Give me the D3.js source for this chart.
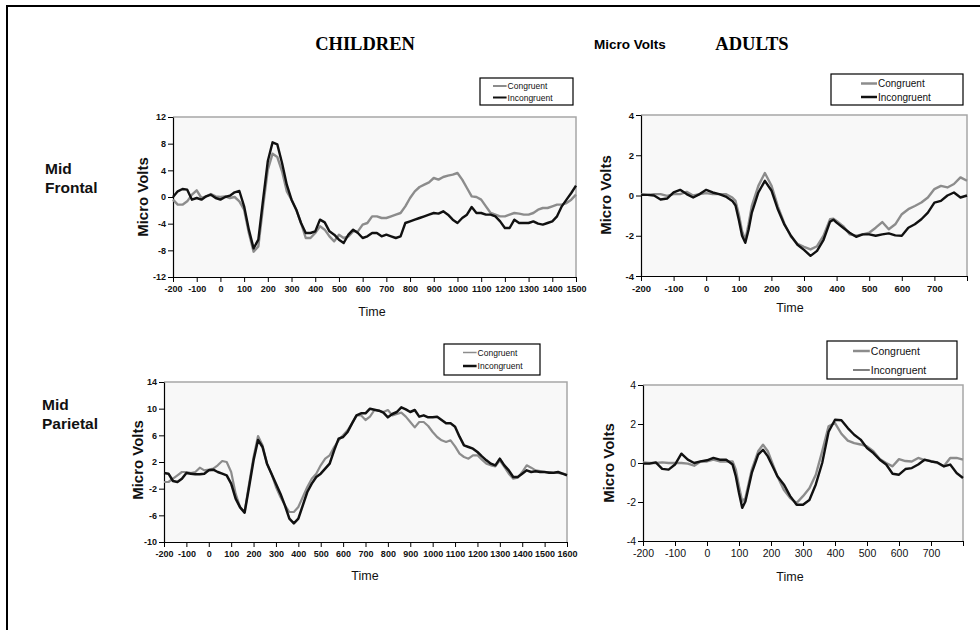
<!DOCTYPE html>
<html>
<head>
<meta charset="utf-8">
<script src="https://cdn.jsdelivr.net/npm/d3@7"></script>
<style>
  html, body { margin: 0; padding: 0; background: #fff; }
  svg { display: block; }
</style>
</head>
<body>
<svg id="chart" width="980" height="630"></svg>
<script>
// ---------------- DATA ----------------
// Children, Mid Frontal
const cfTime = [-200,-180,-160,-140,-120,-100,-80,-60,-40,-20,
  0,20,40,60,80,100,120,140,160,180,
  200,220,240,260,280,300,320,340,360,380,
  400,420,440,460,480,500,520,540,560,580,
  600,620,640,660,680,700,720,740,760,780,
  800,820,840,860,880,900,920,940,960,980,
  1000,1020,1040,1060,1080,1100,1120,1140,1160,1180,
  1200,1220,1240,1260,1280,1300,1320,1340,1360,1380,
  1400,1420,1440,1460,1480,1500];
const cfCongruent = [-0.4,-1.15,-1.15,-0.65,0.35,1.0,-0.15,0.1,0.45,0.1,
  0,0.1,-0.15,0,-0.65,-1.9,-5.4,-8.2,-7.4,-1.4,
  4.1,6.5,6.0,3.85,0.85,-0.4,-1.9,-3.9,-6.15,-6.15,
  -5.4,-4.4,-4.9,-5.9,-6.65,-5.65,-6.15,-5.9,-5.15,-5.15,
  -4.15,-3.9,-2.9,-2.9,-3.15,-3.15,-2.9,-2.65,-2.4,-1.4,
  -0.15,0.85,1.5,1.85,2.2,2.85,2.6,3.0,3.2,3.35,
  3.6,2.6,1.35,0.1,0,-0.4,-1.4,-2.4,-2.65,-2.9,
  -2.9,-2.65,-2.4,-2.5,-2.65,-2.65,-2.4,-1.9,-1.65,-1.65,
  -1.4,-1.15,-1.15,-0.9,-0.4,0.35];
const cfIncongruent = [0,0.85,1.2,1.1,-0.4,-0.15,-0.4,0.1,0.35,-0.15,
  -0.4,0,0.2,0.7,0.9,-1.4,-4.9,-7.7,-6.4,-0.4,
  5.4,8.2,7.9,5.1,1.85,-0.4,-1.9,-3.9,-5.4,-5.4,
  -5.15,-3.4,-3.8,-5.15,-5.65,-6.4,-6.9,-5.65,-4.9,-5.4,
  -6.15,-5.9,-5.4,-5.4,-5.9,-5.65,-5.9,-6.15,-5.9,-3.9,
  -3.65,-3.4,-3.15,-2.9,-2.65,-2.4,-2.5,-2.15,-2.65,-3.4,
  -3.9,-3.15,-2.65,-1.5,-2.4,-2.4,-2.65,-2.65,-2.9,-3.65,
  -4.65,-4.65,-3.4,-3.9,-3.9,-3.9,-3.65,-4.0,-4.15,-3.9,
  -3.65,-2.9,-1.4,-0.4,0.6,1.7];

// Children, Mid Parietal
const cpTime = [-200,-180,-160,-140,-120,-100,-80,-60,-40,-20,
  0,20,40,60,80,100,120,140,160,180,
  200,220,240,260,280,300,320,340,360,380,
  400,420,440,460,480,500,520,540,560,580,
  600,620,640,660,680,700,720,740,760,780,
  800,820,840,860,880,900,920,940,960,980,
  1000,1020,1040,1060,1080,1100,1120,1140,1160,1180,
  1200,1220,1240,1260,1280,1300,1320,1340,1360,1380,
  1400,1420,1440,1460,1480,1500,1520,1540,1560,1580,
  1600];
const cpCongruent = [-1.0,-1.0,-0.5,0,0.5,0.5,0.35,0.5,1.15,0.75,
  0.85,1.0,1.5,2.15,2.0,0.5,-2.75,-4.8,-5.5,-1.25,
  2.75,5.9,4.5,1.75,0.25,-1.75,-3.25,-4.5,-5.5,-5.5,
  -4.75,-3.25,-1.75,-0.5,0.25,1.5,2.5,3.0,4.25,5.25,
  6.0,6.75,7.8,9.0,9.0,8.3,8.8,9.8,9.7,9.5,
  9.8,9.0,9.2,9.4,8.8,8.0,7.2,8.0,8.0,7.4,
  6.5,5.75,5.25,5.0,5.25,4.35,3.25,2.75,2.5,3.0,
  3.0,2.35,1.75,1.5,1.35,2.25,1.25,0.25,-0.5,-0.35,
  0.5,1.5,1.15,0.75,0.65,0.5,0.5,0.35,0.35,0.25,
  0.15];
const cpIncongruent = [0.35,0.25,-0.85,-1.0,-0.5,0.35,0.25,0.15,0.15,0.25,
  0.75,0.85,0.5,0.25,0,-1.25,-3.5,-4.8,-5.6,-1.75,
  2.25,5.3,4.25,1.75,0.25,-1.25,-2.75,-4.5,-6.5,-7.2,
  -6.5,-4.5,-2.5,-1.25,-0.25,0.25,1.0,1.75,3.75,5.5,
  5.75,6.5,7.8,9.0,9.3,9.3,10.0,9.85,9.7,9.4,
  8.7,9.2,9.5,10.2,9.9,9.5,9.8,8.8,9.0,8.7,
  8.7,8.8,8.3,7.8,7.8,7.3,5.8,4.5,4.25,4.0,
  3.5,2.85,2.25,1.75,1.5,2.5,1.5,0.75,-0.25,-0.25,
  0.25,0.75,0.5,0.6,0.5,0.5,0.4,0.4,0.5,0.25,
  0];

// Adults, Mid Frontal
const afTime = [-200,-180,-160,-140,-120,-100,-80,-60,-40,-20,0,20,40,60,80,
  90,100,110,120,130,140,
  160,180,200,220,240,260,280,300,320,340,360,380,390,
  400,420,440,460,480,500,520,540,560,580,600,620,640,660,680,700,720,740,760,780,800];
const afCongruent = [0.07,0.03,0.07,0.07,-0.02,0.07,0.07,0.18,0,0.07,0.12,0.07,0.07,0.07,-0.1,
  -0.27,-0.93,-1.77,-2.2,-1.43,-0.52,
  0.48,1.12,0.5,-0.55,-1.4,-2.05,-2.4,-2.55,-2.68,-2.52,-2.0,-1.18,-1.15,
  -1.27,-1.52,-1.93,-2.0,-1.93,-1.85,-1.6,-1.32,-1.68,-1.43,-0.93,-0.68,-0.52,-0.35,-0.1,0.32,0.48,0.4,0.57,0.9,0.73];
const afIncongruent = [0.03,0.03,0,-0.2,-0.15,0.15,0.28,0.07,-0.1,0.07,0.28,0.15,0.07,-0.05,-0.27,
  -0.5,-1.2,-2.0,-2.35,-1.7,-0.85,
  0.15,0.73,0.25,-0.7,-1.45,-2.0,-2.45,-2.7,-3.0,-2.75,-2.2,-1.3,-1.2,
  -1.35,-1.6,-1.85,-2.05,-1.93,-1.93,-2.0,-1.93,-1.88,-1.98,-2.0,-1.6,-1.43,-1.18,-0.85,-0.35,-0.27,0,0.15,-0.1,0];

// Adults, Mid Parietal
const apTime = [-200,-180,-160,-140,-120,-100,-80,-60,-40,-20,0,20,40,60,80,
  90,100,110,120,140,160,175,190,200,
  220,240,260,280,300,320,340,360,380,400,420,440,460,480,500,520,540,560,580,600,
  620,640,660,680,700,720,740,760,780,800];
const apCongruent = [0.03,0,0,0.03,0,0,0,-0.03,-0.14,0.08,0.08,0.17,0.08,0.08,0.08,
  -0.34,-1.2,-1.97,-1.8,-0.34,0.6,0.94,0.6,0.17,
  -0.68,-1.37,-1.8,-2.05,-1.7,-1.3,-0.6,0.6,1.88,2.05,1.5,1.15,1.02,0.95,0.85,0.6,0.2,0,-0.17,0.2,
  0.1,0.08,0.26,0.15,0.1,0,-0.17,0.26,0.26,0.17];
const apIncongruent = [-0.03,-0.03,0.03,-0.3,-0.34,-0.08,0.48,0.17,0,0.08,0.14,0.26,0.17,0.17,-0.08,
  -0.68,-1.54,-2.3,-1.97,-0.51,0.43,0.68,0.34,0,
  -0.68,-1.1,-1.7,-2.14,-2.14,-1.9,-1.1,0.0,1.6,2.22,2.19,1.79,1.45,1.2,0.77,0.51,0.17,-0.08,-0.55,-0.6,
  -0.31,-0.26,-0.08,0.17,0.08,0.03,-0.17,-0.08,-0.51,-0.77];

// Tick values
const childFrontalYTicks = [-12,-8,-4,0,4,8,12];
const childFrontalXTicks = [-200,-100,0,100,200,300,400,500,600,700,800,900,1000,1100,1200,1300,1400,1500];
const childParietalYTicks = [-10,-6,-2,2,6,10,14];
const childParietalXTicks = [-200,-100,0,100,200,300,400,500,600,700,800,900,1000,1100,1200,1300,1400,1500,1600];
const adultYTicks = [-4,-2,0,2,4];
const adultXTicks = [-200,-100,0,100,200,300,400,500,600,700,800];
const adultXLabelled = [-200,-100,0,100,200,300,400,500,600,700];

const seriesNames = ["Congruent", "Incongruent"];
const titleChildren = "CHILDREN";
const titleAdults = "ADULTS";
const titleUnits = "Micro Volts";
const rowLabels = [["Mid", "Frontal"], ["Mid", "Parietal"]];

// ---------------- LAYOUT ----------------
const GREY = "#8c8c8c", BLACK = "#111";
const SANS = "'Liberation Sans', Arial, Helvetica, sans-serif";
const SERIF = "'Liberation Serif', 'Times New Roman', serif";

const panels = [
  { time: cfTime, cong: cfCongruent, inc: cfIncongruent,
    xd: [-200,1500], yd: [-12,12], xt: childFrontalXTicks, xl: childFrontalXTicks, yt: childFrontalYTicks,
    x0: 173, x1: 576, y0: 117, y1: 277, tickFont: 9, tickWeight: "bold",
    ylab: [142, 197], tlab: [372, 316],
    legend: { x: 480, y: 78, w: 93, h: 27, font: 8.5, lx: 13, rows: [86, 97.5],
      styles: [{c: GREY, w: 2}, {c: BLACK, w: 2}] },
    congW: 2.4, incW: 2.4 },
  { time: afTime, cong: afCongruent, inc: afIncongruent,
    xd: [-200,800], yd: [-4,4], xt: adultXTicks, xl: adultXLabelled, yt: adultYTicks,
    x0: 641, x1: 967, y0: 115, y1: 276, tickFont: 9.5, tickWeight: "bold",
    ylab: [605, 195], tlab: [790, 312],
    legend: { x: 831, y: 74, w: 132, h: 31, font: 10, lx: 30, rows: [83.5, 97],
      styles: [{c: GREY, w: 2.5}, {c: BLACK, w: 2.5}] },
    congW: 2.4, incW: 2.4 },
  { time: cpTime, cong: cpCongruent, inc: cpIncongruent,
    xd: [-200,1600], yd: [-10,14], xt: childParietalXTicks, xl: childParietalXTicks, yt: childParietalYTicks,
    x0: 164, x1: 567, y0: 382, y1: 542, tickFont: 9, tickWeight: "bold",
    ylab: [137, 460], tlab: [365, 580],
    legend: { x: 444, y: 344, w: 96, h: 31, font: 8.5, lx: 19, rows: [352.5, 366],
      styles: [{c: GREY, w: 1.5}, {c: BLACK, w: 2.5}] },
    congW: 2.2, incW: 2.5 },
  { time: apTime, cong: apCongruent, inc: apIncongruent,
    xd: [-200,800], yd: [-4,4], xt: adultXTicks, xl: adultXLabelled, yt: adultYTicks,
    x0: 643, x1: 963, y0: 385, y1: 541, tickFont: 10.5, tickWeight: "normal",
    ylab: [608, 463], tlab: [790, 581],
    legend: { x: 827, y: 341, w: 130, h: 38, font: 10.5, lx: 26, rows: [351, 370],
      styles: [{c: GREY, w: 2.5}, {c: "#555", w: 1.5}] },
    congW: 2.4, incW: 2.4 }
];

// ---------------- DRAW ----------------
const svg = d3.select("#chart");

// outer frame (top and left edges)
svg.append("path")
  .attr("d", "M7,630 L7,6 L980,6")
  .attr("fill", "none").attr("stroke", "#000").attr("stroke-width", 2);

// headings
svg.append("text").attr("x", 365).attr("y", 50).attr("text-anchor", "middle")
  .attr("font-family", SERIF).attr("font-weight", "bold").attr("font-size", 18.5)
  .text(titleChildren);
svg.append("text").attr("x", 752).attr("y", 50).attr("text-anchor", "middle")
  .attr("font-family", SERIF).attr("font-weight", "bold").attr("font-size", 18.5)
  .text(titleAdults);
svg.append("text").attr("x", 630).attr("y", 49).attr("text-anchor", "middle")
  .attr("font-family", SANS).attr("font-weight", "bold").attr("font-size", 13.5)
  .text(titleUnits);

// row labels
const rowPos = [[45, 174, 193], [42, 409.5, 429]];
rowLabels.forEach((lines, i) => {
  lines.forEach((t, j) => {
    svg.append("text").attr("x", rowPos[i][0]).attr("y", rowPos[i][1 + j])
      .attr("font-family", SANS).attr("font-weight", "bold").attr("font-size", 15.5)
      .attr("fill", "#111").text(t);
  });
});

panels.forEach(p => {
  const g = svg.append("g");
  const x = d3.scaleLinear().domain(p.xd).range([p.x0, p.x1]);
  const y = d3.scaleLinear().domain(p.yd).range([p.y1, p.y0]);

  // plot background
  g.append("rect").attr("x", p.x0).attr("y", p.y0)
    .attr("width", p.x1 - p.x0).attr("height", p.y1 - p.y0)
    .attr("fill", "#f8f8f8");
  // grey plot-area border (top, right)
  g.append("path")
    .attr("d", `M${p.x0},${p.y0} L${p.x1},${p.y0} L${p.x1},${p.y1}`)
    .attr("fill", "none").attr("stroke", "#a6a6a6").attr("stroke-width", 1.5);

  // axes
  const yAxis = d3.axisLeft(y).tickValues(p.yt).tickSize(5).tickSizeOuter(0).tickPadding(2)
    .tickFormat(d => String(d));
  const xAxis = d3.axisBottom(x).tickValues(p.xt).tickSize(5).tickSizeOuter(0).tickPadding(4)
    .tickFormat(d => p.xl.includes(d) ? String(d) : "");
  const ya = g.append("g").attr("transform", `translate(${p.x0},0)`).call(yAxis);
  const xa = g.append("g").attr("transform", `translate(0,${p.y1})`).call(xAxis);
  [ya, xa].forEach(a => {
    a.select(".domain").attr("stroke", "#000").attr("stroke-width", 1.2);
    a.selectAll(".tick line").attr("stroke", "#000").attr("stroke-width", 1);
    a.selectAll("text").attr("font-family", SANS).attr("font-size", p.tickFont)
      .attr("font-weight", p.tickWeight).attr("fill", "#111");
  });

  // series lines
  const line = d3.line().x(d => x(d[0])).y(d => y(d[1]));
  const congPts = p.time.map((t, i) => [t, p.cong[i]]);
  const incPts = p.time.map((t, i) => [t, p.inc[i]]);
  g.append("path").datum(congPts).attr("d", line)
    .attr("fill", "none").attr("stroke", GREY).attr("stroke-width", p.congW)
    .attr("stroke-linejoin", "round");
  g.append("path").datum(incPts).attr("d", line)
    .attr("fill", "none").attr("stroke", BLACK).attr("stroke-width", p.incW)
    .attr("stroke-linejoin", "round");

  // axis titles
  g.append("text")
    .attr("transform", `translate(${p.ylab[0]},${p.ylab[1]}) rotate(-90)`)
    .attr("text-anchor", "middle").attr("dominant-baseline", "central")
    .attr("font-family", SANS).attr("font-weight", "bold").attr("font-size", 15)
    .attr("fill", "#111").text("Micro Volts");
  g.append("text").attr("x", p.tlab[0]).attr("y", p.tlab[1])
    .attr("text-anchor", "middle").attr("font-family", SANS).attr("font-size", 12.5)
    .attr("fill", "#111").text("Time");

  // legend
  const L = p.legend;
  g.append("rect").attr("x", L.x).attr("y", L.y).attr("width", L.w).attr("height", L.h)
    .attr("fill", "#fff").attr("stroke", "#000").attr("stroke-width", 1.2);
  seriesNames.forEach((name, i) => {
    const ry = L.rows[i];
    const lineStart = L.x + L.lx;
    const lineLen = L.font * 1.6;
    g.append("line").attr("x1", lineStart).attr("x2", lineStart + lineLen)
      .attr("y1", ry).attr("y2", ry)
      .attr("stroke", L.styles[i].c).attr("stroke-width", L.styles[i].w);
    g.append("text").attr("x", lineStart + lineLen + 1).attr("y", ry)
      .attr("dominant-baseline", "central")
      .attr("font-family", SANS).attr("font-size", L.font).attr("fill", "#111")
      .text(name);
  });
});
</script>
</body>
</html>
